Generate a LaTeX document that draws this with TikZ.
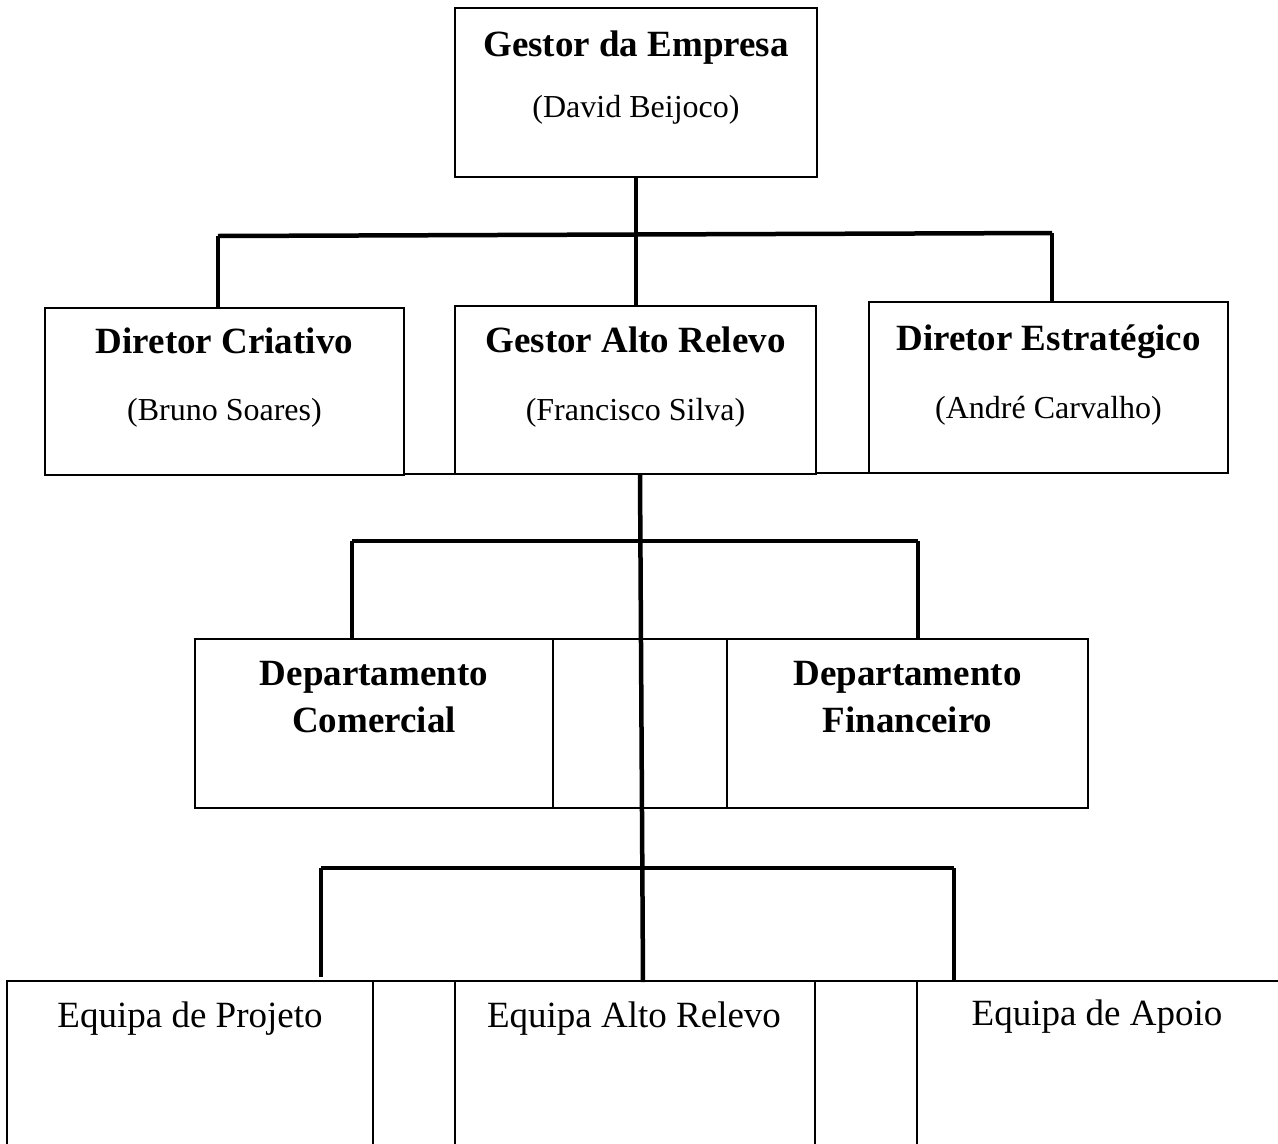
\documentclass[tikz,border=0pt]{standalone}
\usepackage{fontspec}
\setmainfont{Liberation Serif}
\begin{document}
\begin{tikzpicture}[x=1pt,y=-1pt,
  box/.style={draw=black,line width=1.6pt,inner sep=0pt,fill=white},
  conn/.style={draw=black,line width=4.5pt,line cap=butt},
  thin/.style={draw=black,line width=1.4pt},
  ttl/.style={font=\fontsize{37}{40}\selectfont\bfseries,anchor=base,inner sep=0pt},
  sub/.style={font=\fontsize{32}{36}\selectfont,anchor=base,inner sep=0pt},
  team/.style={font=\fontsize{37}{40}\selectfont,anchor=base,inner sep=0pt}]
\useasboundingbox (0,0) rectangle (1278,1144);
\clip (0,0) rectangle (1278,1144);
\fill[white] (0,0) rectangle (1278,1144);

% top box
\node[box,minimum width=362,minimum height=169] (top) at (636,92.5) {};
\node[ttl] (topT) at (636,56) {Gestor da Empresa};
\node[sub] (topS) at (636,117) {(David Beijoco)};

% row 2
\draw[thin] (404,474) -- (455,474);
\draw[thin] (816,473) -- (869,473);
\node[box,minimum width=359,minimum height=167] (dc) at (224.5,391.5) {};
\node[box,minimum width=361,minimum height=168] (gar) at (635.5,390) {};
\node[box,minimum width=359,minimum height=171] (de) at (1048.5,387.5) {};
\node[ttl] (dcT) at (224.5,353) {Diretor Criativo};
\node[sub] (dcS) at (224.5,420) {(Bruno Soares)};
\node[ttl] (garT) at (635.5,352) {Gestor Alto Relevo};
\node[sub] (garS) at (635.5,420) {(Francisco Silva)};
\node[ttl] (deT) at (1048.5,350) {Diretor Estratégico};
\node[sub] (deS) at (1048.5,418) {(André Carvalho)};

% row 3
\node[box,minimum width=174,minimum height=169] (mid3) at (640,723.5) {};
\node[box,minimum width=358,minimum height=169] (com) at (374,723.5) {};
\node[box,minimum width=361,minimum height=169] (fin) at (907.5,723.5) {};
\node[ttl,align=center] (comT) at (374,685) {Departamento};
\node[ttl] (comT2) at (374,732) {Comercial};
\node[ttl] (finT) at (907.5,685) {Departamento};
\node[ttl] (finT2) at (907.5,732) {Financeiro};

% row 4
\node[box,minimum width=82,minimum height=200] (f1) at (414,1081) {};
\node[box,minimum width=103,minimum height=200] (f2) at (866.5,1081) {};
\node[box,minimum width=366,minimum height=200] (ep) at (190,1081) {};
\node[box,minimum width=360,minimum height=200] (ear) at (635,1081) {};
\node[box,minimum width=362,minimum height=200] (ea) at (1098,1081) {};
\node[team] (epT) at (190,1027) {Equipa de Projeto};
\node[team] (earT) at (634,1027) {Equipa Alto Relevo};
\node[team] (eaT) at (1097,1025) {Equipa de Apoio};

% connectors level 1
\coordinate (b1L) at (218,236);
\coordinate (b1R) at (1052,233);
\coordinate (b1C) at (636,235);
\draw[conn] (top.south) -- (b1C);
\draw[conn] (b1L) -- (b1R);
\draw[conn] (b1L) -- (b1L |- dc.north);
\draw[conn] (b1C) -- (b1C |- gar.north);
\draw[conn] (b1R) -- (b1R |- de.north);

% connectors level 2 and 3
\coordinate (g0) at (640,474);
\coordinate (g1) at (643,982);
\draw[conn] (g0) -- (g1);
\coordinate (b2L) at (352,541);
\coordinate (b2R) at (918,541);
\draw[conn] (b2L) -- (b2R);
\draw[conn] (b2L) -- (b2L |- com.north);
\draw[conn] (b2R) -- (b2R |- fin.north);
\coordinate (b3L) at (321,868);
\coordinate (b3R) at (954,868);
\draw[conn] (b3L) -- (b3R);
\draw[conn] (b3L) -- (321,977);
\draw[conn] (b3R) -- (954,982);
\end{tikzpicture}
\end{document}
